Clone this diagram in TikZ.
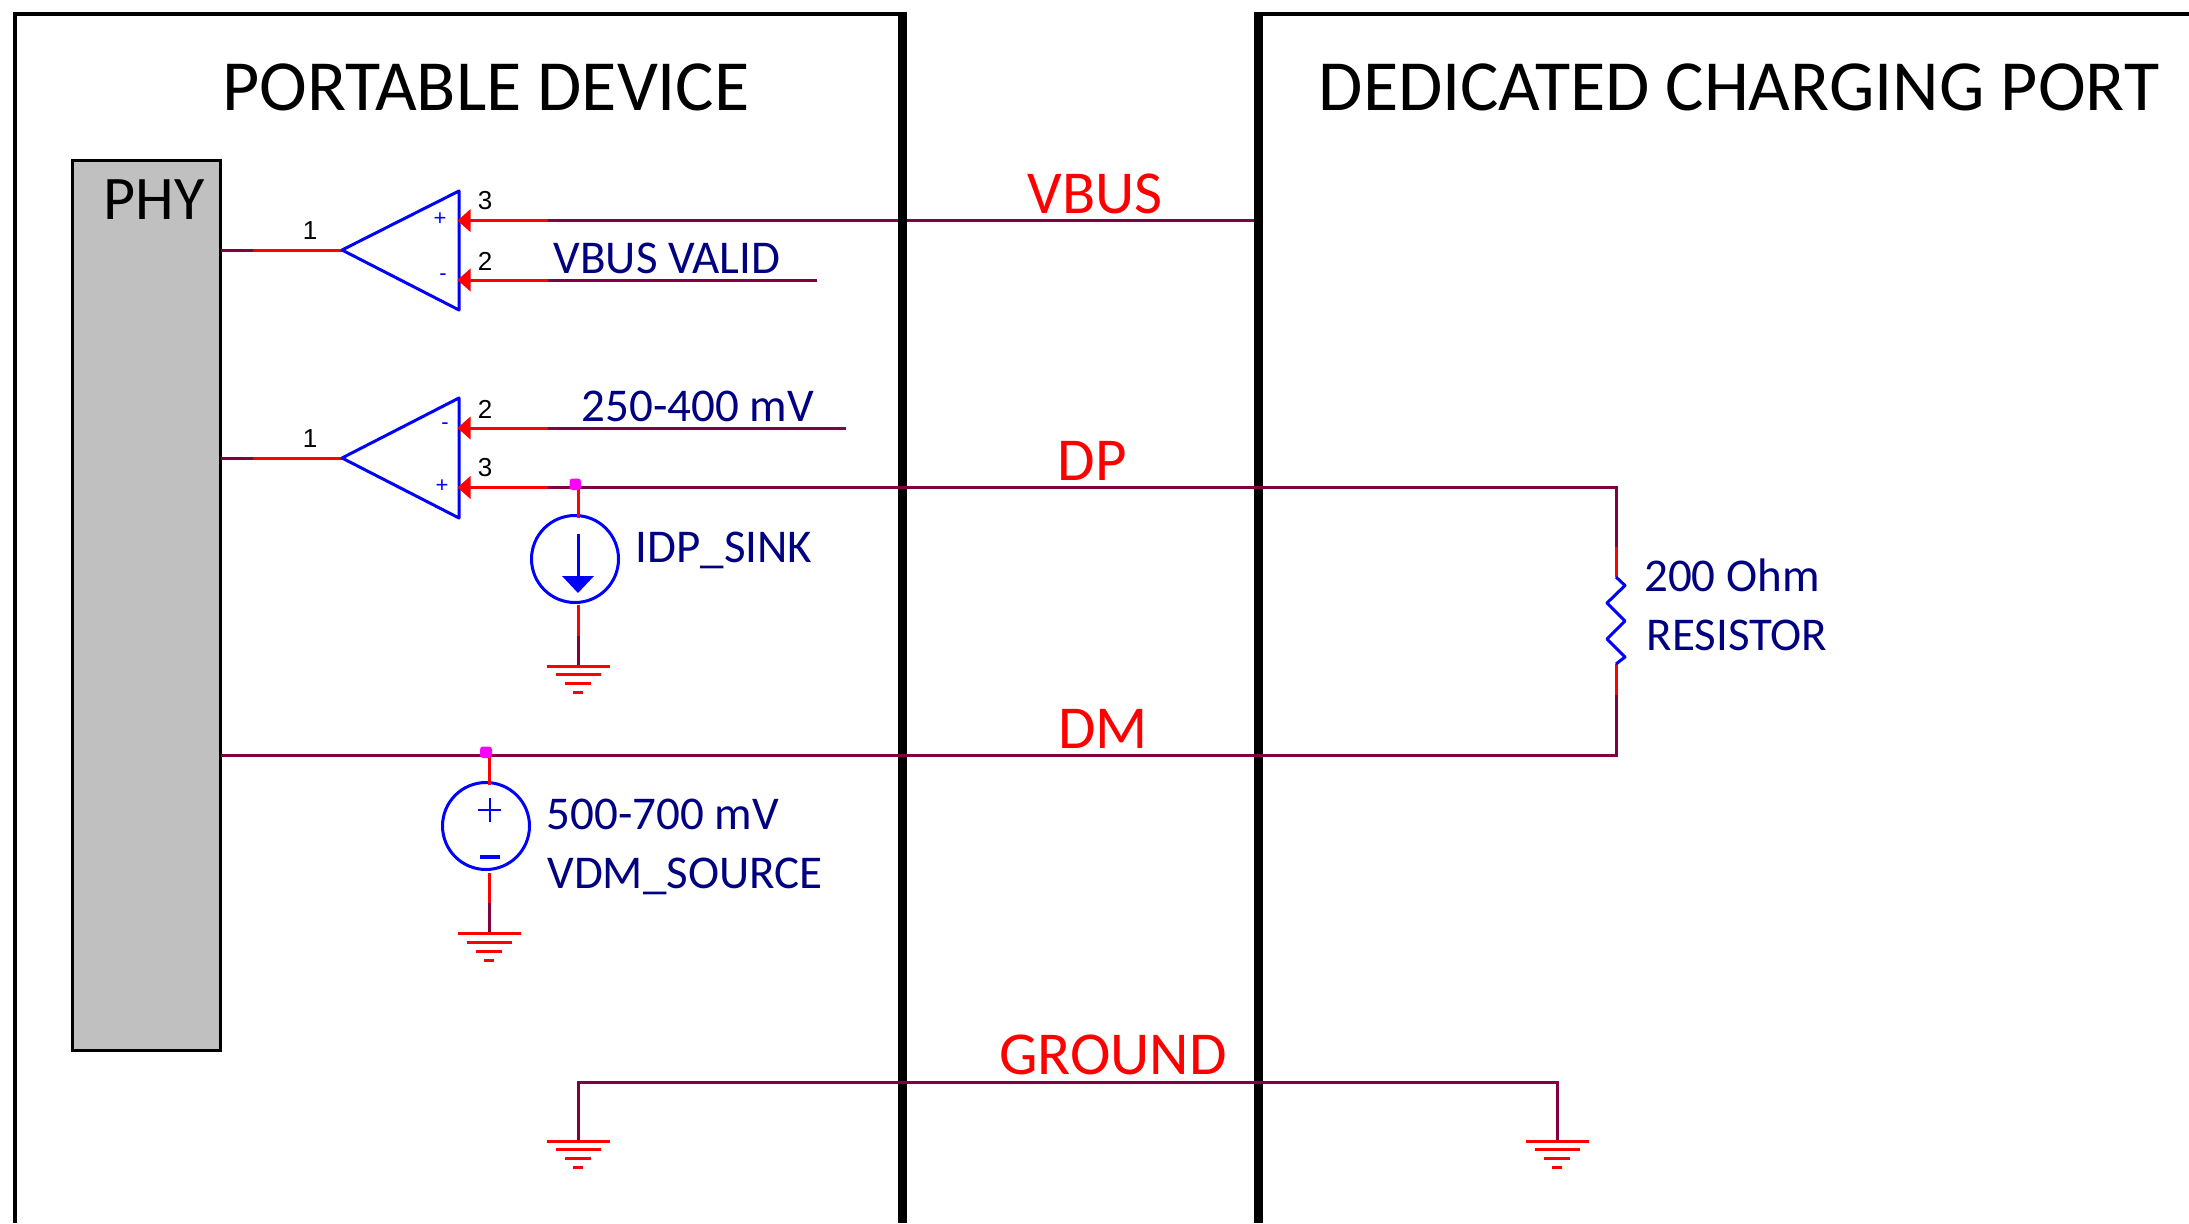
\documentclass[tikz,border=0pt]{standalone}
\usepackage{fontspec}
\setmainfont{Carlito}
\newfontfamily\pinfont{Liberation Sans}
\definecolor{wirecol}{RGB}{128,0,64}
\definecolor{navytext}{RGB}{0,0,128}
\definecolor{phygray}{RGB}{192,192,192}
\definecolor{dotcol}{RGB}{255,0,255}
\tikzset{
  wire/.style={draw=wirecol,line width=3pt},
  redwire/.style={draw=red,line width=3pt},
  blueline/.style={draw=blue,line width=3pt},
  wall/.style={draw=black,line width=9pt},
  thin wall/.style={draw=black,line width=4pt},
  txt/.style={inner sep=0pt,outer sep=0pt},
  title/.style={txt,font=\fontsize{72}{72}\selectfont},
  netred/.style={txt,text=red,font=\fontsize{61}{61}\selectfont},
  navy/.style={txt,text=navytext,font=\fontsize{47}{47}\selectfont},
  pinlab/.style={txt,font=\pinfont\fontsize{26}{26}\selectfont},
  sign/.style={txt,text=blue,font=\pinfont\fontsize{22}{22}\selectfont},
  source/.style={circle,draw=blue,line width=3pt,minimum size=87pt,inner sep=0pt,outer sep=0pt},
}
\newcommand{\gnd}[1]{%
  \draw[redwire] ([shift={(-31,0)}]#1) -- ([shift={(32,0)}]#1);
  \draw[redwire] ([shift={(-22,8.8)}]#1) -- ([shift={(23,8.8)}]#1);
  \draw[redwire] ([shift={(-13,17.8)}]#1) -- ([shift={(13,17.8)}]#1);
  \draw[redwire] ([shift={(-5,26.6)}]#1) -- ([shift={(5,26.6)}]#1);
}
\newcommand{\tip}[1]{\fill[red] ([xshift=-1.5pt]#1) -- ++(13,-11.5) -- ++(0,23) -- cycle;}
\begin{document}
\begin{tikzpicture}[x=1pt,y=-1pt]
\useasboundingbox (0,0) rectangle (2189,1223);
\coordinate (vbusR) at (1254,220.6); \coordinate (a3) at (459,220.6);
\draw[wire] (a3) -- (vbusR);
% frames
\draw[thin wall] (15,1223) -- (15,14) -- (903,14);
\draw[wall] (902.5,12) -- (902.5,1223);
\draw[thin wall] (1254,14) -- (2189,14);
\draw[wall] (1258.5,12) -- (1258.5,1223);
\node[title] (tpd) at (486,87) {PORTABLE DEVICE};
\node[title] (tdc) at (1739,87) {DEDICATED CHARGING PORT};
% PHY
\node[draw=black,line width=3pt,fill=phygray,minimum width=148pt,minimum height=890pt,inner sep=0,outer sep=0,anchor=north west] (phy) at (72.5,160) {};
\node[txt,font=\fontsize{62}{62}\selectfont] (phyt) at (154,200) {PHY};
% coordinates
\coordinate (a1) at (342,250); \coordinate (a1t) at (459,191); \coordinate (a1b) at (459,310);
\coordinate (a2) at (459,280);
\coordinate (b1) at (342,458); \coordinate (b1t) at (459,398); \coordinate (b1b) at (459,518);
\coordinate (b2) at (459,428); \coordinate (b3) at (459,487.5);
\coordinate (vvR) at (817,280); \coordinate (vrefR) at (846,428);
\coordinate (dpR) at (1616,487.5); \coordinate (dmR) at (1616,755);
\coordinate (phyA) at (221,250); \coordinate (phyB) at (221,458); \coordinate (phyC) at (221,755);
% wires
\draw[wire] (phyA) -- (a1); \draw[redwire] (253,250) -- (a1);
\draw[wire] (phyB) -- (b1); \draw[redwire] (253,458) -- (b1);
\draw[redwire] (a3) -- (548,220.6);
\draw[wire] (a2) -- (vvR); \draw[redwire] (a2) -- (548,280);
\draw[wire] (b2) -- (vrefR); \draw[redwire] (b2) -- (548,428);
\draw[wire] (b3) -- (dpR) -- (1616,547);
\draw[redwire] (b3) -- (548,487.5);
\draw[wire] (phyC) -- (dmR) -- (1616,695);
% triangles
\draw[blueline,line join=round] (a1) -- (a1t) -- (a1b) -- cycle;
\draw[blueline,line join=round] (b1) -- (b1t) -- (b1b) -- cycle;
\tip{a3}\tip{a2}\tip{b2}\tip{b3}
% pins
\node[pinlab] (p1) at (310,231) {1};
\node[pinlab] (p3) at (485,201) {3};
\node[pinlab] (p2) at (485,261) {2};
\node[pinlab] (q1) at (310,439) {1};
\node[pinlab] (q2) at (485,409) {2};
\node[pinlab] (q3) at (485,468) {3};
\node[sign] (s1) at (440,219) {+};
\node[sign] (s2) at (443,277) {-};
\node[sign] (s3) at (445,426) {-};
\node[sign] (s4) at (442,486) {+};
% IDP sink
\node[source] (isrc) at (575,559) {};
\coordinate (g1) at (578,666);
\draw[redwire] (578,487.5) -- (578,518);
\draw[wire] (578,636) -- (g1); \draw[redwire] (578,605) -- (578,636);
\gnd{g1}
\fill[dotcol,rounded corners=3pt] (569.5,478.5) rectangle (581,490);
\draw[blueline] (578,534) -- (578,578);
\fill[blue] (562,576) -- (594,576) -- (578,593) -- cycle;
% VDM source
\node[source] (vsrc) at (486,826) {};
\coordinate (g2) at (489,933.5);
\draw[redwire] (489,755) -- (489,785);
\draw[wire] (489,903) -- (g2); \draw[redwire] (489,873) -- (489,903);
\gnd{g2}
\fill[dotcol,rounded corners=3pt] (480,746.5) rectangle (492,758);
\draw[draw=blue,line width=2.4pt] (478,810) -- (501,810) (490,798) -- (490,822);
\draw[draw=blue,line width=4pt] (480,857) -- (500,857);
% resistor
\draw[redwire] (1616,547) -- (1616,577);
\draw[redwire] (1616,664) -- (1616,695);
\draw[blueline,line join=round] (1616,577) -- (1625,585.5) -- (1607,603) -- (1625,621) -- (1607,639) -- (1625,657) -- (1616,664);
% ground net
\coordinate (g3) at (578,1141); \coordinate (g4) at (1557,1141);
\draw[wire,line join=miter] (g3) -- (578,1082) -- (1557,1082) -- (g4);
\gnd{g3}\gnd{g4}
% labels
\node[netred] (lvbus) at (1095,194) {VBUS};
\node[netred] (ldp) at (1092,461) {DP};
\node[netred] (ldm) at (1103,729) {DM};
\node[netred] (lgnd) at (1113,1055) {GROUND};
\node[navy] (lvv) at (667,258) {VBUS VALID};
\node[navy] (lref) at (698,406) {250-400 mV};
\node[navy] (lidp) at (724,550) {IDP\_SINK};
\node[navy] (l500) at (663,814) {500-700 mV};
\node[navy] (lvdm) at (685,876) {VDM\_SOURCE};
\node[navy] (lr1) at (1732,575) {200 Ohm};
\node[navy] (lr2) at (1737,635) {RESISTOR};
\end{tikzpicture}
\end{document}
